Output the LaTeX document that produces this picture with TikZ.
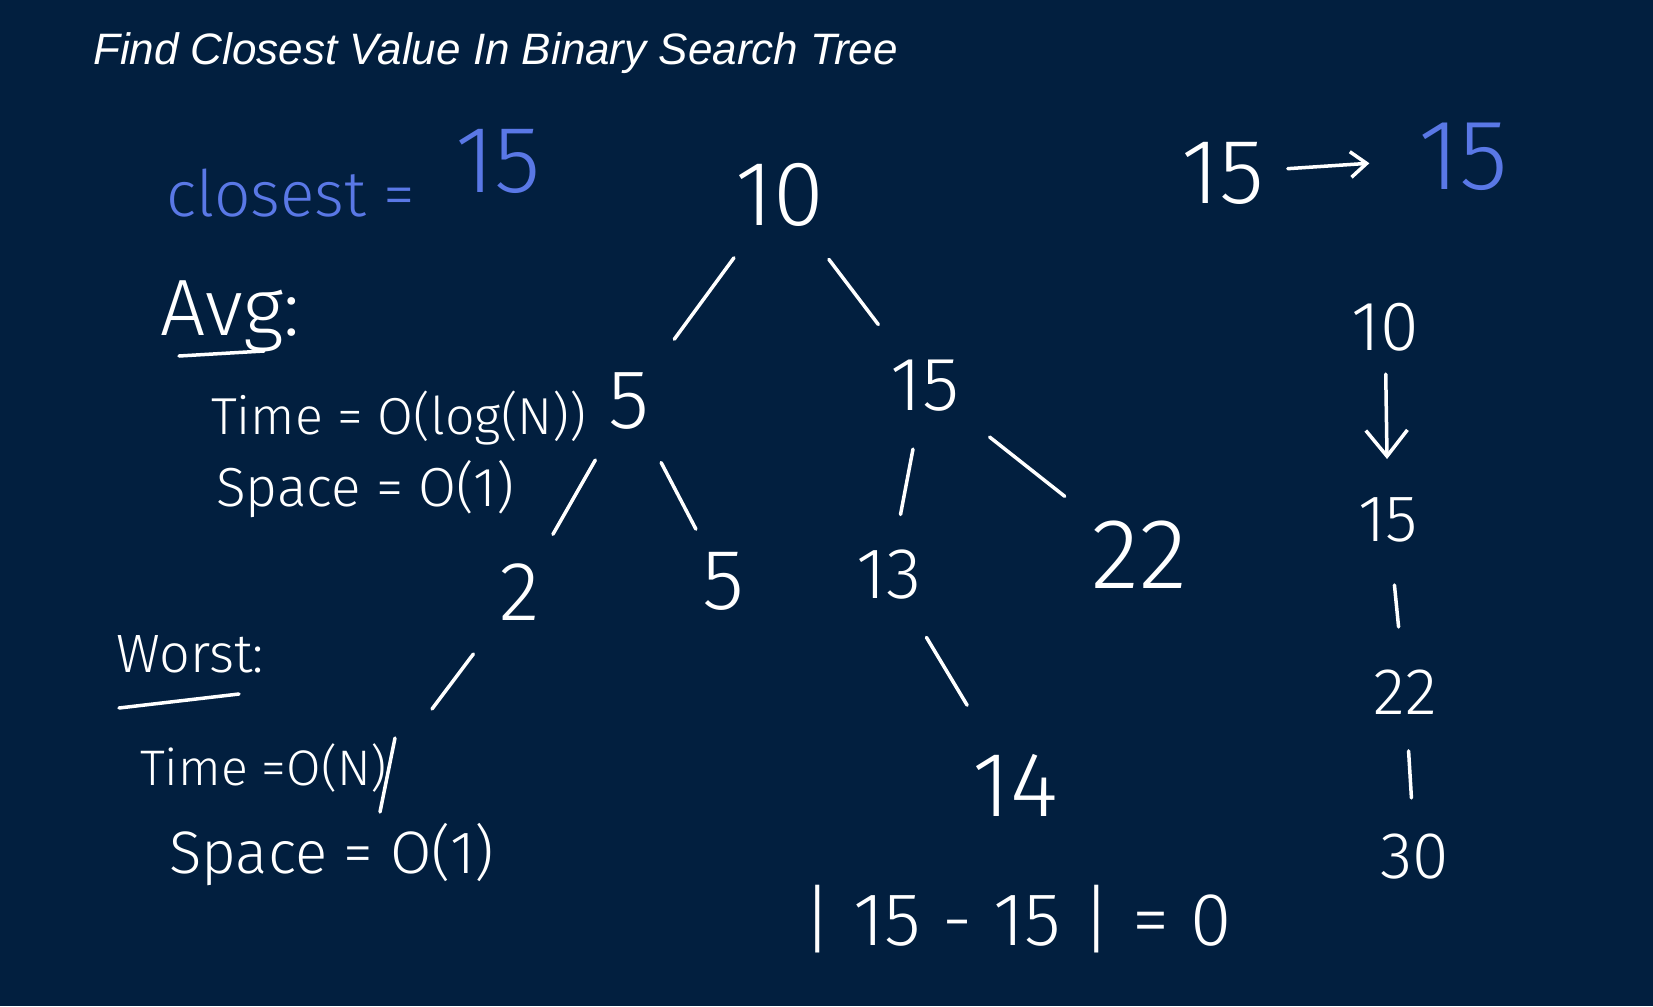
\documentclass[tikz,border=0pt]{standalone}
\usepackage{fontspec}
\setmainfont{Liberation Sans}
\newfontfamily\hand{Fira Sans Light}
\usetikzlibrary{arrows.meta,calc}
\definecolor{bg}{HTML}{021F3F}
\definecolor{pen}{HTML}{5A78E6}
\tikzset{
  hw/.style={font={\hand\fontsize{#1}{#1}\selectfont}, text=white, inner sep=0pt},
  titletext/.style={font={\fontsize{44}{50}\selectfont\itshape}, text=white, inner sep=0pt},
  stroke/.style={draw=white, line width=3.5pt, line cap=round},
  barb/.style={-{Straight Barb[length=#1, width=#1*1.6, line width=3.5pt]}},
}
\begin{document}
\begin{tikzpicture}[x=1pt,y=-1pt]
\fill[bg] (0,0) rectangle (1653,1006);
\useasboundingbox (0,0) rectangle (1653,1006);

% title
\node[titletext, anchor=base west] (title) at (93,65) {Find Closest Value In Binary Search Tree};

% closest
\node[hw=64, text=pen, anchor=base west] (closest) at (166,216) {closest =};
\node[hw=95, text=pen] (cval) at (498,161) {15};

% average
\node[hw=80, anchor=base west] (avg) at (160,335) {Avg:};
\draw[stroke] (179,356) -- (264,351);
\node[hw=52, anchor=base west] (avgtime) at (211,434) {Time = O(log(N))};
\node[hw=55, anchor=base west] (avgspace) at (216,506) {Space = O(1)};

% worst
\node[hw=54, anchor=base west] (worst) at (116,672) {Worst:};
\draw[stroke] (119,708) -- (239,694);
\node[hw=50, anchor=base west] (wtime) at (140,785) {Time =O(N)};
\draw[stroke] (395,738) -- (380,812);
\node[hw=60, anchor=base west] (wspace) at (169,873) {Space = O(1)};

% tree
\node[hw=92] (n10) at (780,195) {10};
\node[hw=84] (n5) at (629,401) {5};
\node[hw=76] (n15) at (925,386) {15};
\node[hw=84] (n2) at (520,592) {2};
\node[hw=86] (n5b) at (723,581) {5};
\node[hw=72] (n13) at (889,575) {13};
\node[hw=100] (n22) at (1139,555) {22};
\node[hw=92] (n14) at (1015,785) {14};
\coordinate (n2L) at (432,709);

\draw[stroke] ($(n10)!0.305!(n5)$) -- ($(n10)!0.70!(n5)$);
\draw[stroke] ($(n10)!0.337!(n15)$) -- ($(n10)!0.678!(n15)$);
\draw[stroke] ($(n5)!0.309!(n2)$) -- ($(n5)!0.698!(n2)$);
\draw[stroke] ($(n5)!0.342!(n5b)$) -- ($(n5)!0.712!(n5b)$);
\draw[stroke] ($(n15)!0.334!(n13)$) -- ($(n15)!0.68!(n13)$);
\draw[stroke] ($(n15)!0.302!(n22)$) -- ($(n15)!0.653!(n22)$);
\draw[stroke] ($(n13)!0.297!(n14)$) -- ($(n13)!0.62!(n14)$);
\draw[stroke] (n2L) -- ($(n2L)!0.47!(n2)$);

\node[hw=75, anchor=base west] (absdiff) at (802,945) {| 15 - 15 | = 0};

% right side
\node[hw=92] (t15w) at (1223,173) {15};
\node[hw=100, text=pen] (t15b) at (1463,157) {15};
\draw[stroke, barb=16pt] ($(t15w)!0.27!(t15b)$) -- ($(t15w)!0.61!(t15b)$);

\node[hw=70] (c10) at (1385,327) {10};
\node[hw=66] (c15) at (1388,520) {15};
\node[hw=66] (c22) at (1405,692) {22};
\node[hw=66] (c30) at (1415,857) {30};
\draw[stroke, barb=26pt] ($(c10)!0.244!(c15)$) -- ($(c10)!0.684!(c15)$);
\draw[stroke] ($(c15)!0.378!(c22)$) -- ($(c15)!0.622!(c22)$);
\draw[stroke] ($(c22)!0.357!(c30)$) -- ($(c22)!0.642!(c30)$);
\end{tikzpicture}
\end{document}
